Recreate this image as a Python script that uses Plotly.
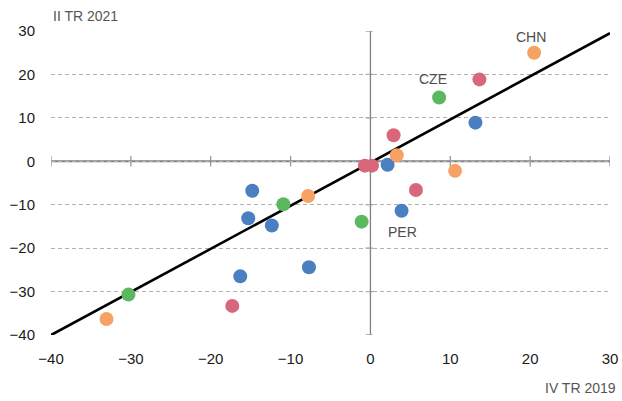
import plotly.graph_objects as go

# Data (x: IV TR 2019, y: II TR 2021)
blue_x = [-14.8, -15.3, -12.35, -16.3, -7.7, 3.9, 2.15, 13.15]
blue_y = [-6.8, -13.1, -14.8, -26.5, -24.4, -11.4, -0.8, 8.9]
green_x = [-30.3, -10.9, -1.1, 8.6]
green_y = [-30.7, -9.9, -13.9, 14.7]
orange_x = [-33.05, -7.8, 3.3, 10.6, 20.5]
orange_y = [-36.3, -8.0, 1.4, -2.2, 25.0]
red_x = [-17.3, -0.7, 0.2, 2.9, 5.7, 13.65]
red_y = [-33.3, -1.0, -1.0, 6.0, -6.6, 18.85]

labels = ["CHN", "CZE", "PER"]
label_x = [20.5, 8.6, 3.9]
label_y = [25.0, 14.7, -11.4]

trend_slope = 0.993
trend_intercept = -0.3
trend_x = [-40, 30]
trend_y = [trend_slope * v + trend_intercept for v in trend_x]

x_ticks = [-40, -30, -20, -10, 0, 10, 20, 30]
y_ticks = [-40, -30, -20, -10, 0, 10, 20, 30]
x_title = "IV TR 2019"
y_title = "II TR 2021"

colors = {"blue": "#4a7fc1", "green": "#5cb85f", "orange": "#f7a264", "red": "#d9677b"}

fig = go.Figure()
fig.add_trace(go.Scatter(x=trend_x, y=trend_y, mode="lines",
                         line=dict(color="black", width=2.6), hoverinfo="skip"))
for name, xs, ys in [("blue", blue_x, blue_y), ("green", green_x, green_y),
                     ("orange", orange_x, orange_y), ("red", red_x, red_y)]:
    fig.add_trace(go.Scatter(x=xs, y=ys, mode="markers",
                             marker=dict(color=colors[name], size=14, line=dict(width=0))))

shapes = []
# axis lines through zero
shapes.append(dict(type="line", xref="x", yref="y", x0=x_ticks[0], x1=x_ticks[-1], y0=0, y1=0,
                   line=dict(color="#808080", width=2), layer="below"))
shapes.append(dict(type="line", xref="x", yref="y", x0=0, x1=0, y0=y_ticks[0], y1=y_ticks[-1],
                   line=dict(color="#808080", width=1.3), layer="below"))
for t in x_ticks:
    shapes.append(dict(type="line", xref="x", yref="y", x0=t, x1=t, y0=-1.2, y1=1.2,
                       line=dict(color="#909090", width=1.2), layer="below"))
for t in y_ticks:
    shapes.append(dict(type="line", xref="x", yref="y", x0=-0.6, x1=0.3, y0=t, y1=t,
                       line=dict(color="#909090", width=1.2), layer="below"))

annotations = []
shifts = {"CHN": (-3, 16), "CZE": (-6, 18), "PER": (1, -21)}
for lab, lx, ly in zip(labels, label_x, label_y):
    dx, dy = shifts[lab]
    annotations.append(dict(x=lx, y=ly, text=lab, showarrow=False, xshift=dx, yshift=dy,
                            font=dict(size=14, color="#4d4d4d")))
annotations.append(dict(x=-40, y=30, text=y_title, showarrow=False, xanchor="left",
                        yanchor="middle", yshift=15, xshift=0,
                        font=dict(size=14, color="#555555")))
annotations.append(dict(x=30, y=-40, text=x_title, showarrow=False, xanchor="right",
                        yanchor="middle", yshift=-53, xshift=8,
                        font=dict(size=14, color="#555555")))

fig.update_layout(
    width=622, height=401,
    margin=dict(l=51, r=12, t=31, b=66),
    paper_bgcolor="white", plot_bgcolor="white",
    showlegend=False,
    font=dict(family="Liberation Sans, Arial, sans-serif", color="#1a1a1a", size=15),
    shapes=shapes, annotations=annotations,
    xaxis=dict(range=[-40, 30], tickvals=x_ticks, showgrid=False, zeroline=False,
               showline=False, ticks="outside", ticklen=10, tickcolor="rgba(0,0,0,0)",
               tickfont=dict(size=15, color="#1a1a1a"), automargin=False),
    yaxis=dict(range=[-40, 30], tickvals=y_ticks, showgrid=True, gridcolor="#b0b0b0",
               gridwidth=1, griddash="4px,3px", zeroline=False, showline=False,
               ticks="outside", ticklen=12, tickcolor="rgba(0,0,0,0)",
               tickfont=dict(size=15, color="#1a1a1a"), automargin=False),
)
fig.write_html("out.html", config={"displayModeBar": False},
               post_script="document.body.style.margin='0';document.documentElement.style.overflow='hidden';")
